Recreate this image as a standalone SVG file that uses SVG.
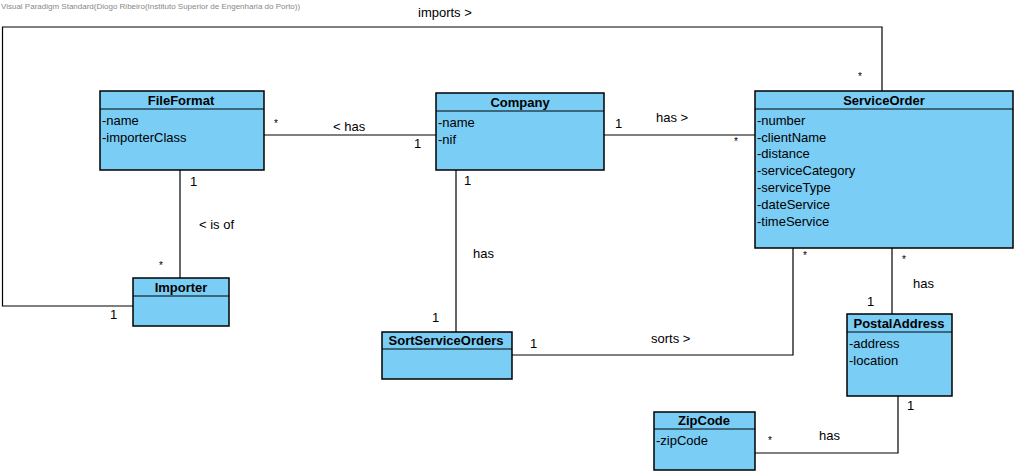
<svg xmlns="http://www.w3.org/2000/svg" width="1018" height="475" viewBox="0 0 1018 475">
<style>
.box{fill:#7acdf4;stroke:#000;stroke-width:1.5}
.sep{stroke:#000;stroke-width:1}
.t{font-family:"Liberation Sans",Arial,sans-serif;font-size:13px;fill:#000}
.h{font-family:"Liberation Sans",Arial,sans-serif;font-size:13px;font-weight:bold;fill:#000;text-anchor:middle}
.l{font-family:"Liberation Sans",Arial,sans-serif;font-size:13px;fill:#000}
.s{font-family:"Liberation Sans",Arial,sans-serif;font-size:10px;fill:#000}
.c{fill:none;stroke:#000;stroke-width:1.2}
.wm{font-family:"Liberation Sans",Arial,sans-serif;font-size:8px;fill:#888}
</style>
<rect width="1018" height="475" fill="#fff"/>
<text class="wm" x="1" y="9">Visual Paradigm Standard(Diogo Ribeiro(Instituto Superior de Engenharia do Porto))</text>
<g id="connectors">
<polyline class="c" points="882,91 882,27 2.5,27 2.5,306 133,306"/>
<line class="c" x1="264" y1="135" x2="436" y2="135"/>
<line class="c" x1="604" y1="135" x2="755" y2="135"/>
<line class="c" x1="180" y1="170" x2="180" y2="278"/>
<line class="c" x1="456" y1="170" x2="456" y2="332"/>
<polyline class="c" points="512,355 793,355 793,248"/>
<line class="c" x1="892" y1="248" x2="892" y2="314"/>
<polyline class="c" points="898,396 898,453 755,453"/>
<text class="l" x="418" y="17">imports &gt;</text>
<text class="s" x="858" y="80">*</text>
<text class="l" x="110" y="319">1</text>
<text class="s" x="274" y="127">*</text>
<text class="l" x="333" y="131">&lt; has</text>
<text class="l" x="414" y="148">1</text>
<text class="l" x="615" y="128">1</text>
<text class="l" x="656" y="122">has &gt;</text>
<text class="s" x="734" y="145">*</text>
<text class="l" x="190" y="186">1</text>
<text class="l" x="199" y="229">&lt; is of</text>
<text class="s" x="159" y="269">*</text>
<text class="l" x="464" y="185">1</text>
<text class="l" x="473" y="258">has</text>
<text class="l" x="432" y="322">1</text>
<text class="l" x="530" y="348">1</text>
<text class="l" x="651" y="343">sorts &gt;</text>
<text class="s" x="803" y="259">*</text>
<text class="s" x="902" y="263">*</text>
<text class="l" x="913" y="288">has</text>
<text class="l" x="867" y="306">1</text>
<text class="l" x="907" y="410">1</text>
<text class="s" x="768" y="444">*</text>
<text class="l" x="819" y="440">has</text>
</g>
<g id="FileFormat">
<rect class="box" x="100" y="91" width="164" height="79"/>
<line class="sep" x1="100" y1="109" x2="264" y2="109"/>
<text class="h" x="181" y="105">FileFormat</text>
<text class="t" x="102" y="125">-name</text>
<text class="t" x="102" y="142">-importerClass</text>
</g>
<g id="Company">
<rect class="box" x="436" y="93" width="168" height="77"/>
<line class="sep" x1="436" y1="111" x2="604" y2="111"/>
<text class="h" x="520" y="107">Company</text>
<text class="t" x="438" y="127">-name</text>
<text class="t" x="438" y="144">-nif</text>
</g>
<g id="ServiceOrder">
<rect class="box" x="755" y="91" width="258" height="157"/>
<line class="sep" x1="755" y1="109" x2="1013" y2="109"/>
<text class="h" x="884" y="105">ServiceOrder</text>
<text class="t" x="757" y="125">-number</text>
<text class="t" x="757" y="142">-clientName</text>
<text class="t" x="757" y="158">-distance</text>
<text class="t" x="757" y="175">-serviceCategory</text>
<text class="t" x="757" y="192">-serviceType</text>
<text class="t" x="757" y="209">-dateService</text>
<text class="t" x="757" y="226">-timeService</text>
</g>
<g id="Importer">
<rect class="box" x="133" y="278" width="96" height="48"/>
<line class="sep" x1="133" y1="296" x2="229" y2="296"/>
<text class="h" x="181" y="292">Importer</text>
</g>
<g id="SortServiceOrders">
<rect class="box" x="382" y="332" width="130" height="47"/>
<line class="sep" x1="382" y1="349" x2="512" y2="349"/>
<text class="h" x="446" y="345">SortServiceOrders</text>
</g>
<g id="PostalAddress">
<rect class="box" x="847" y="314" width="105" height="82"/>
<line class="sep" x1="847" y1="332" x2="952" y2="332"/>
<text class="h" x="899" y="328">PostalAddress</text>
<text class="t" x="849" y="348">-address</text>
<text class="t" x="849" y="365">-location</text>
</g>
<g id="ZipCode">
<rect class="box" x="654" y="412" width="101" height="58"/>
<line class="sep" x1="654" y1="429" x2="755" y2="429"/>
<text class="h" x="704" y="425">ZipCode</text>
<text class="t" x="656" y="445">-zipCode</text>
</g>
</svg>
